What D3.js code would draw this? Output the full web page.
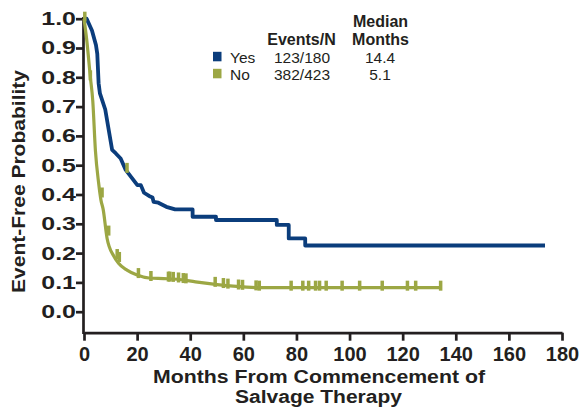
<!DOCTYPE html>
<html>
<head>
<meta charset="utf-8">
<script src="https://cdn.jsdelivr.net/npm/d3@7"></script>
<style>
  body { margin: 0; background: #fff; }
  svg { display: block; font-family: "Liberation Sans", Arial, sans-serif; }
</style>
</head>
<body>
<div class="content"></div>
<script>
const w = 583;
const h = 410;

// tick labels
const xTicks = [0, 20, 40, 60, 80, 100, 120, 140, 160, 180];
const yTicks = [0, 0.1, 0.2, 0.3, 0.4, 0.5, 0.6, 0.7, 0.8, 0.9, 1.0];

// legend table
const groups = ['Yes', 'No'];
const events = ['123/180', '382/423'];
const medians = ['14.4', '5.1'];

// "Yes" curve (months, probability)
const yesTime = [0, 1, 3, 4.5, 5, 5.5, 6, 8, 10.6, 12, 13.8, 15.7, 20.1, 21.4, 22.6, 24.5, 25.8, 26.2, 28, 31, 34.3,
	40.9, 40.9, 49.7, 49.7, 72.6, 72.6, 77.1, 77.1, 83.3, 83.3, 173.6];
const yesProb = [1.0, 1.0, 0.96, 0.91, 0.88, 0.78, 0.745, 0.69, 0.552, 0.54, 0.523, 0.484, 0.432, 0.432, 0.406, 0.395, 0.39, 0.375, 0.372, 0.358, 0.349,
	0.349, 0.324, 0.324, 0.313, 0.313, 0.296, 0.296, 0.25, 0.25, 0.226, 0.226];
const yesCensorTime = [16.2];
const yesCensorProb = [0.484];

// "No" curve
const noTime = [0, 1, 2.4, 3.3, 4.3, 5.5, 6.4, 7.2, 8.7, 11.2, 13, 16.2, 20, 24.5, 30, 36, 42, 48, 55, 65, 80, 100, 120, 134.5];
const noProb = [1.0, 0.93, 0.80, 0.72, 0.55, 0.44, 0.38, 0.35, 0.25, 0.19, 0.165, 0.142, 0.125, 0.115, 0.113, 0.11, 0.102, 0.095, 0.088, 0.082, 0.082, 0.082, 0.082, 0.082];
const noCensorTime = [0.3, 2.4, 6.8, 9.3, 12.5, 13.3, 20.5, 25.2, 31.8, 32.3, 33.6, 35.6, 37.4, 38.4, 49.4, 52.5, 54.2, 58.2, 59.7, 64.8, 66,
	78, 82.4, 84.6, 87.2, 88.7, 91.2, 97.2, 103.8, 112.3, 121.8, 124.9, 134.3];
const noCensorProb = [1.0, 0.80, 0.40, 0.27, 0.19, 0.18, 0.125, 0.115, 0.113, 0.113, 0.112, 0.11, 0.108, 0.107, 0.095, 0.091, 0.089, 0.086, 0.085, 0.083, 0.082,
	0.082, 0.082, 0.082, 0.082, 0.082, 0.082, 0.082, 0.082, 0.082, 0.082, 0.082, 0.082];

const blue = '#0b3d7c';
const green = '#9ca744';
const ink = '#231f20';

const svg = d3.select('.content').append('svg')
	.attr('width', w)
	.attr('height', h);

const x = d3.scaleLinear().domain([0, 180]).range([84, 562]);
const y = d3.scaleLinear().domain([0, 1]).range([311.7, 18.7]);

// x axis
const xAxis = svg.append('g')
	.attr('transform', 'translate(0,332.7)')
	.call(d3.axisBottom(x).tickValues(xTicks).tickFormat(d3.format('d')).tickSize(8).tickSizeOuter(0).tickPadding(6));
xAxis.select('.domain').attr('stroke', ink).attr('stroke-width', 2.7);
xAxis.selectAll('.tick line').attr('stroke', ink).attr('stroke-width', 2.7);
xAxis.selectAll('.tick text')
	.attr('fill', ink)
	.style('font-size', '20px')
	.style('font-weight', 'bold');

// y axis
const yAxis = svg.append('g')
	.attr('transform', 'translate(83.5,0)')
	.call(d3.axisLeft(y).tickValues(yTicks).tickFormat(d3.format('.1f')).tickSize(7.5).tickSizeOuter(0));
yAxis.select('.domain').remove();
yAxis.append('line')
	.attr('y1', 17)
	.attr('y2', 334)
	.attr('stroke', ink)
	.attr('stroke-width', 2.7);
yAxis.selectAll('.tick line').attr('stroke', ink).attr('stroke-width', 2.7);
yAxis.selectAll('.tick text')
	.attr('x', 0)
	.attr('transform', 'translate(-7.5,0) scale(1.35,1)')
	.attr('fill', ink)
	.style('font-size', '18.5px')
	.style('font-weight', 'bold');

// axis titles
svg.append('text')
	.attr('transform', 'translate(25,181.5) rotate(-90)')
	.attr('text-anchor', 'middle')
	.attr('textLength', 223)
	.attr('lengthAdjust', 'spacingAndGlyphs')
	.attr('fill', ink)
	.style('font-size', '18.5px')
	.style('font-weight', 'bold')
	.text('Event-Free Probability');

svg.append('text')
	.attr('x', 319)
	.attr('y', 383.3)
	.attr('text-anchor', 'middle')
	.attr('textLength', 332)
	.attr('lengthAdjust', 'spacingAndGlyphs')
	.attr('fill', ink)
	.style('font-size', '18px')
	.style('font-weight', 'bold')
	.text('Months From Commencement of');

svg.append('text')
	.attr('x', 318.5)
	.attr('y', 402.7)
	.attr('text-anchor', 'middle')
	.attr('textLength', 167)
	.attr('lengthAdjust', 'spacingAndGlyphs')
	.attr('fill', ink)
	.style('font-size', '18px')
	.style('font-weight', 'bold')
	.text('Salvage Therapy');

// curves
const yesData = yesTime.map((t, i) => [t, yesProb[i]]);
const noData = noTime.map((t, i) => [t, noProb[i]]);

svg.append('path')
	.datum(noData)
	.attr('fill', 'none')
	.attr('stroke', green)
	.attr('stroke-width', 3.2)
	.attr('d', d3.line().x((d) => x(d[0])).y((d) => y(d[1])).curve(d3.curveMonotoneX));

svg.append('path')
	.datum(yesData)
	.attr('fill', 'none')
	.attr('stroke', blue)
	.attr('stroke-width', 3.8)
	.attr('stroke-linejoin', 'round')
	.attr('d', d3.line().x((d) => x(d[0])).y((d) => y(d[1])));

// censor marks
const censors = noCensorTime.map((t, i) => [t, noCensorProb[i]])
	.concat(yesCensorTime.map((t, i) => [t, yesCensorProb[i]]));

svg.selectAll('rect.censor')
	.data(censors)
	.enter()
	.append('rect')
	.attr('class', 'censor')
	.attr('x', (d) => x(d[0]) - 1.75)
	.attr('y', (d) => y(d[1]) - 7)
	.attr('width', 3.5)
	.attr('height', 10)
	.attr('fill', green);

// legend
const legend = svg.append('g').attr('id', 'legend');
const head = legend.append('g')
	.attr('fill', ink)
	.style('font-size', '16px')
	.style('font-weight', 'bold')
	.attr('text-anchor', 'middle');
head.append('text').attr('x', 380.5).attr('y', 27.3).text('Median');
head.append('text').attr('x', 380.5).attr('y', 45).text('Months');
head.append('text').attr('x', 301.5).attr('y', 45).text('Events/N');

const rows = legend.selectAll('g.row')
	.data(groups)
	.enter()
	.append('g')
	.attr('class', 'row')
	.attr('transform', (d, i) => 'translate(0,' + (63.3 + i * 17) + ')')
	.attr('fill', ink)
	.style('font-size', '15.5px');

rows.append('rect')
	.attr('x', 213)
	.attr('y', -11.5)
	.attr('width', 8.5)
	.attr('height', 9.5)
	.attr('fill', (d, i) => [blue, green][i]);
rows.append('text').attr('x', 230).text((d) => d);
rows.append('text').attr('x', 302).attr('text-anchor', 'middle').text((d, i) => events[i]);
rows.append('text').attr('x', 380).attr('text-anchor', 'middle').text((d, i) => medians[i]);
</script>
</body>
</html>
